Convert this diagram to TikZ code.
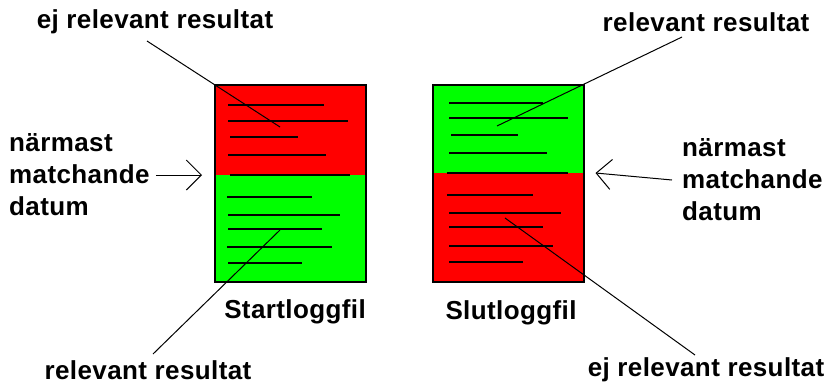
\documentclass[tikz,border=0pt]{standalone}
\usepackage{fontspec}
\setmainfont{Liberation Sans}[LetterSpace=1.5]
\usetikzlibrary{arrows.meta}
\definecolor{logred}{RGB}{255,0,0}
\definecolor{loggreen}{RGB}{0,255,0}
\begin{document}
\begin{tikzpicture}[x=1pt,y=-1pt,
  lbl/.style={font=\bfseries\fontsize{26}{32}\selectfont, inner sep=0pt},
  stack/.style={lbl, align=left},
  half/.style={draw=none, minimum width=151pt, inner sep=0pt, outer sep=0pt},
  frame/.style={draw=black, line width=2pt},
  txtline/.style={draw=black, line width=2pt},
  leader/.style={draw=black, line width=1pt},
  pointer/.style={draw=black, line width=1pt, -{Straight Barb[length=15pt, width=30pt, line width=1pt]}}
]
\useasboundingbox (0,0) rectangle (827,386);

% ---- start log file (left) ----
\node[half, fill=logred,   minimum height=90pt]  (lred)   at (290.5,130) {};
\node[half, fill=loggreen, minimum height=107pt] (lgreen) at (290.5,228.5) {};
\draw[frame] (lred.north west) rectangle (lgreen.south east);
\draw[txtline] (230,175) -- (350,175);
\foreach \ya/\xa/\xb in {105/228/324, 121/228/348, 137/230/298, 155/228/326,
                         197/227/312, 215/228/340, 229/228/322, 247/227/332, 263/228/302}
  \draw[txtline] (\xa,\ya) -- (\xb,\ya);
\node[lbl] (lname) at (295,312) {Startloggfil};

% ---- end log file (right) ----
\node[half, fill=loggreen, minimum height=88pt]  (rgreen) at (508,129) {};
\node[half, fill=logred,   minimum height=109pt] (rred)   at (508,227.5) {};
\draw[frame] (rgreen.north west) rectangle (rred.south east);
\draw[txtline] (447,173) -- (568,173);
\foreach \ya/\xa/\xb in {103/449/543, 118/449/568, 135/451/518, 153/449/547,
                         195/447/533, 213/449/561, 227/449/543, 246/449/553, 262/449/523}
  \draw[txtline] (\xa,\ya) -- (\xb,\ya);
\node[lbl] (rname) at (511,313) {Slutloggfil};

% ---- labels ----
\node[lbl] (ltop) at (155,22)  {ej relevant resultat};
\node[lbl] (lbot) at (148,370) {relevant resultat};
\node[lbl] (rtop) at (706,22)  {relevant resultat};
\node[lbl] (rbot) at (706,370) {ej relevant resultat};
\node[stack, anchor=west] (lnear) at (9,175)   {närmast\\matchande\\datum};
\node[stack, anchor=west] (rnear) at (682,180) {närmast\\matchande\\datum};

% ---- leader lines ----
\coordinate (ltopA) at (147,41);  \coordinate (ltopB) at (280,127);
\coordinate (lbotA) at (153,354); \coordinate (lbotB) at (280,230);
\coordinate (rtopA) at (682,37);  \coordinate (rtopB) at (497,126);
\coordinate (rbotA) at (695,355); \coordinate (rbotB) at (505,218);
\draw[leader] (ltopA) -- (ltopB);
\draw[leader] (lbotA) -- (lbotB);
\draw[leader] (rtopA) -- (rtopB);
\draw[leader] (rbotA) -- (rbotB);

% ---- pointers to the closest matching date ----
\draw[pointer] ([xshift=6pt]lnear.east) -- ([xshift=-13pt]lgreen.north west);
\draw[pointer] ([xshift=-10pt]rnear.west) -- ([xshift=12pt]rred.north east);
\end{tikzpicture}
\end{document}
